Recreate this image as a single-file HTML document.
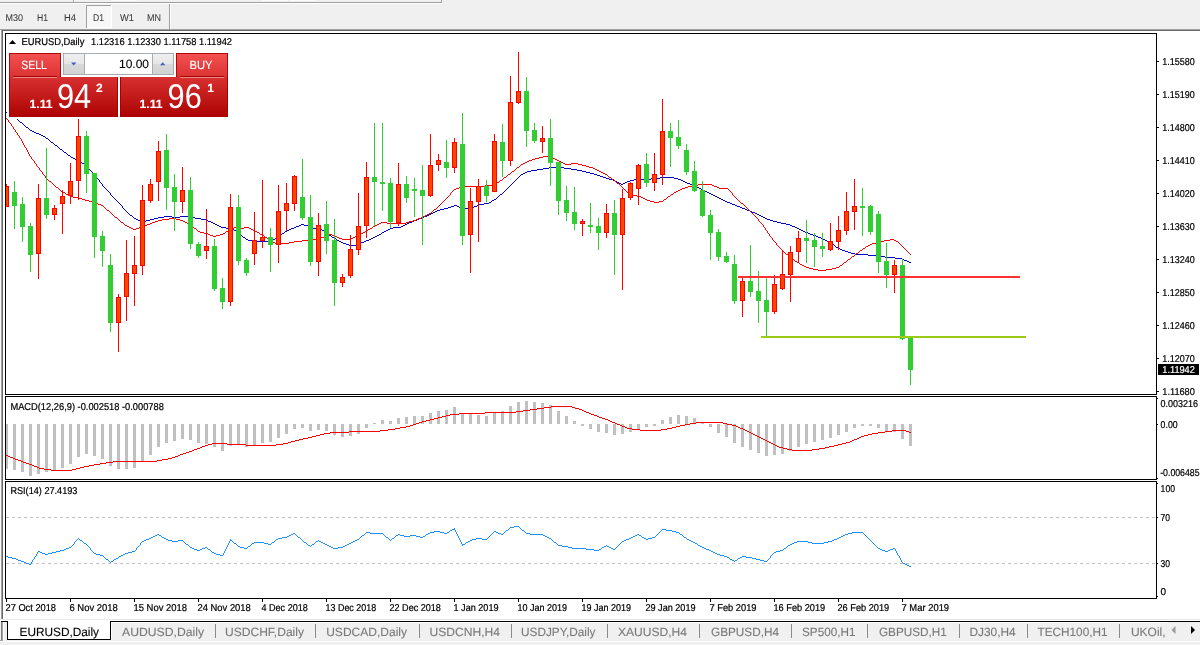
<!DOCTYPE html>
<html lang="en"><head><meta charset="utf-8"><title>EURUSD,Daily</title>
<style>html,body{margin:0;padding:0;background:#f0f0f0;overflow:hidden}svg{display:block}</style></head>
<body>
<svg width="1200" height="645" viewBox="0 0 1200 645" font-family="Liberation Sans, sans-serif" shape-rendering="crispEdges" text-rendering="geometricPrecision">
<defs>
<linearGradient id="gs" x1="0" y1="0" x2="0" y2="1"><stop offset="0" stop-color="#f45252"/><stop offset="1" stop-color="#dc3232"/></linearGradient>
<linearGradient id="gb" x1="0" y1="0" x2="0" y2="1"><stop offset="0" stop-color="#d83030"/><stop offset="1" stop-color="#ac0202"/></linearGradient>
<linearGradient id="gsp" x1="0" y1="0" x2="0" y2="1"><stop offset="0" stop-color="#f0f0f0"/><stop offset="0.48" stop-color="#e6e6e6"/><stop offset="0.52" stop-color="#d9d9d9"/><stop offset="1" stop-color="#d2d2d2"/></linearGradient>
<clipPath id="cm"><rect x="6" y="34" width="1150" height="360"/></clipPath>
</defs>
<rect x="0" y="0" width="1200" height="645" fill="#f0f0f0"/>
<rect x="0" y="2" width="442" height="1" fill="#a0a0a0"/>
<rect x="0" y="3" width="442" height="1" fill="#ffffff"/>
<rect x="73" y="0" width="1" height="2" fill="#a0a0a0"/>
<rect x="74" y="0" width="1" height="2" fill="#ffffff"/>
<rect x="441" y="0" width="1" height="3" fill="#a0a0a0"/>
<rect x="111" y="0" width="26" height="1" fill="#fafafa"/>
<rect x="262" y="0" width="26" height="1" fill="#fafafa"/>
<rect x="290" y="0" width="27" height="1" fill="#fafafa"/>
<rect x="86" y="5" width="26" height="23" fill="#f7f7f7"/>
<rect x="86" y="5" width="26" height="1" fill="#a0a0a0"/>
<rect x="86" y="5" width="1" height="23" fill="#a0a0a0"/>
<rect x="111" y="5" width="1" height="23" fill="#ffffff"/>
<rect x="87" y="27" width="25" height="1" fill="#ffffff"/>
<text x="5.5" y="21" font-size="9.8" fill="#383838" textLength="17.5" lengthAdjust="spacingAndGlyphs" stroke="#383838" stroke-width="0.05">M30</text>
<text x="37" y="21" font-size="9.8" fill="#383838" textLength="11" lengthAdjust="spacingAndGlyphs" stroke="#383838" stroke-width="0.05">H1</text>
<text x="64" y="21" font-size="9.8" fill="#383838" textLength="12" lengthAdjust="spacingAndGlyphs" stroke="#383838" stroke-width="0.05">H4</text>
<text x="93" y="21" font-size="9.8" fill="#383838" textLength="11" lengthAdjust="spacingAndGlyphs" stroke="#383838" stroke-width="0.05">D1</text>
<text x="120" y="21" font-size="9.8" fill="#383838" textLength="14" lengthAdjust="spacingAndGlyphs" stroke="#383838" stroke-width="0.05">W1</text>
<text x="147" y="21" font-size="9.8" fill="#383838" textLength="14" lengthAdjust="spacingAndGlyphs" stroke="#383838" stroke-width="0.05">MN</text>
<rect x="169" y="4" width="1" height="25" fill="#a0a0a0"/>
<rect x="170" y="4" width="1" height="25" fill="#ffffff"/>
<rect x="0" y="29" width="1200" height="1" fill="#a0a0a0"/>
<rect x="1" y="30" width="1199" height="1" fill="#696969"/>
<rect x="0" y="30" width="1" height="612" fill="#fafafa"/>
<rect x="3" y="31" width="1197" height="589" fill="#ffffff"/>
<rect x="1" y="30" width="1" height="590" fill="#a0a0a0"/>
<rect x="2" y="30" width="1" height="590" fill="#696969"/>
<g clip-path="url(#cm)">
<path fill="#0000cd" d="M6 112h1v1h-1zM7 113h2v1h-2zM9 114h1v1h-1zM10 115h2v1h-2zM12 116h2v1h-2zM14 117h1v1h-1zM15 118h2v1h-2zM17 119h1v1h-1zM18 120h1v1h-1zM19 121h1v1h-1zM20 122h2v1h-2zM22 123h1v1h-1zM23 124h1v1h-1zM24 125h1v1h-1zM25 126h1v1h-1zM26 127h2v1h-2zM28 128h1v1h-1zM29 129h1v1h-1zM30 130h2v1h-2zM32 131h2v1h-2zM34 132h2v1h-2zM36 133h3v1h-3zM39 134h2v1h-2zM41 135h2v1h-2zM43 136h2v1h-2zM45 137h1v1h-1zM46 138h2v1h-2zM48 139h1v1h-1zM49 140h1v1h-1zM50 141h1v1h-1zM51 142h2v1h-2zM53 143h1v1h-1zM54 144h1v1h-1zM55 145h2v1h-2zM57 146h1v1h-1zM58 147h1v1h-1zM59 148h1v1h-1zM60 149h2v1h-2zM62 150h1v1h-1zM63 151h1v1h-1zM64 152h2v1h-2zM66 153h1v1h-1zM67 154h1v1h-1zM68 155h2v1h-2zM70 156h1v1h-1zM71 157h2v1h-2zM73 158h2v1h-2zM75 159h2v1h-2zM77 160h2v1h-2zM79 161h1v1h-1zM80 162h2v1h-2zM82 163h2v1h-2zM84 164h1v1h-1zM85 165h1v1h-1zM86 166h1v1h-1zM87 167h1v1h-1zM88 168h1v1h-1zM89 169h1v1h-1zM90 170h1v1h-1zM91 171h1v1h-1zM92 172h1v1h-1zM93 173h1v1h-1zM94 174h1v1h-1zM95 175h1v1h-1zM96 176h1v2h-1zM97 178h1v1h-1zM98 179h1v1h-1zM99 180h1v2h-1zM100 182h1v1h-1zM101 183h1v1h-1zM102 184h1v2h-1zM103 186h1v1h-1zM104 187h1v1h-1zM105 188h1v1h-1zM106 189h1v1h-1zM107 190h1v1h-1zM108 191h1v1h-1zM109 192h1v1h-1zM110 193h1v2h-1zM111 195h1v1h-1zM112 196h1v1h-1zM113 197h1v1h-1zM114 198h1v1h-1zM115 199h1v1h-1zM116 200h1v1h-1zM117 201h1v1h-1zM118 202h1v1h-1zM119 203h1v1h-1zM120 204h1v1h-1zM121 205h1v1h-1zM122 206h1v2h-1zM123 208h1v1h-1zM124 209h1v1h-1zM125 210h1v1h-1zM126 211h1v1h-1zM127 212h1v1h-1zM128 213h1v1h-1zM129 214h1v1h-1zM130 215h2v1h-2zM132 216h1v1h-1zM133 217h1v1h-1zM134 218h2v1h-2zM136 219h2v1h-2zM138 220h4v1h-4zM142 221h4v1h-4zM146 220h4v1h-4zM150 219h4v1h-4zM154 218h4v1h-4zM158 217h6v1h-6zM164 216h8v1h-8zM172 217h8v1h-8zM180 216h8v1h-8zM188 217h7v1h-7zM195 218h6v1h-6zM201 219h5v1h-5zM206 220h2v1h-2zM208 221h3v1h-3zM211 222h2v1h-2zM213 223h2v1h-2zM215 224h2v1h-2zM217 225h2v1h-2zM219 226h2v1h-2zM221 227h5v1h-5zM226 228h6v1h-6zM232 229h2v1h-2zM234 230h3v1h-3zM237 231h2v1h-2zM239 232h1v2h-1zM240 234h1v1h-1zM241 235h1v1h-1zM242 236h1v1h-1zM243 237h2v1h-2zM245 238h1v1h-1zM246 239h2v1h-2zM248 240h4v1h-4zM252 241h19v1h-19zM271 240h2v1h-2zM273 239h2v1h-2zM275 238h2v1h-2zM277 237h1v1h-1zM278 236h2v1h-2zM280 235h1v1h-1zM281 234h1v1h-1zM282 233h2v1h-2zM284 232h1v1h-1zM285 231h2v1h-2zM287 230h2v1h-2zM289 229h2v1h-2zM291 228h3v1h-3zM294 227h2v1h-2zM296 226h3v1h-3zM299 225h2v1h-2zM301 224h3v1h-3zM304 225h4v1h-4zM308 226h2v1h-2zM310 227h3v1h-3zM313 228h8v1h-8zM321 229h1v1h-1zM322 230h2v1h-2zM324 231h1v1h-1zM325 232h1v1h-1zM326 233h2v1h-2zM328 234h1v1h-1zM329 235h2v1h-2zM331 236h1v1h-1zM332 237h2v1h-2zM334 238h2v1h-2zM336 239h1v1h-1zM337 240h2v1h-2zM339 241h2v1h-2zM341 242h2v1h-2zM343 243h3v1h-3zM346 244h3v1h-3zM349 245h8v1h-8zM357 244h2v1h-2zM359 243h2v1h-2zM361 242h3v1h-3zM364 241h2v1h-2zM366 240h3v1h-3zM369 239h2v1h-2zM371 238h2v1h-2zM373 237h2v1h-2zM375 236h2v1h-2zM377 235h2v1h-2zM379 234h2v1h-2zM381 233h1v1h-1zM382 232h2v1h-2zM384 231h2v1h-2zM386 230h2v1h-2zM388 229h2v1h-2zM390 228h3v1h-3zM393 227h8v1h-8zM401 226h2v1h-2zM403 225h2v1h-2zM405 224h2v1h-2zM407 223h2v1h-2zM409 222h3v1h-3zM412 221h2v1h-2zM414 220h3v1h-3zM417 219h2v1h-2zM419 218h3v1h-3zM422 217h2v1h-2zM424 216h3v1h-3zM427 215h2v1h-2zM429 214h2v1h-2zM431 213h2v1h-2zM433 212h2v1h-2zM435 211h2v1h-2zM437 210h3v1h-3zM440 209h4v1h-4zM444 208h4v1h-4zM448 207h3v1h-3zM451 206h3v1h-3zM454 205h3v1h-3zM457 206h2v1h-2zM459 207h2v1h-2zM461 208h11v1h-11zM472 207h2v1h-2zM474 206h3v1h-3zM477 205h2v1h-2zM479 204h5v1h-5zM484 203h5v1h-5zM489 202h2v1h-2zM491 201h1v1h-1zM492 200h2v1h-2zM494 199h2v1h-2zM496 198h1v1h-1zM497 197h1v1h-1zM498 196h1v1h-1zM499 195h1v1h-1zM500 194h2v1h-2zM502 193h1v1h-1zM503 192h1v1h-1zM504 191h1v1h-1zM505 190h1v1h-1zM506 189h1v1h-1zM507 188h1v1h-1zM508 187h1v1h-1zM509 186h1v1h-1zM510 185h1v1h-1zM511 184h1v1h-1zM512 183h1v1h-1zM513 182h1v1h-1zM514 181h1v1h-1zM515 180h1v1h-1zM516 179h1v1h-1zM517 178h1v1h-1zM518 177h1v1h-1zM519 176h1v1h-1zM520 175h1v1h-1zM521 174h2v1h-2zM523 173h2v1h-2zM525 172h2v1h-2zM527 171h4v1h-4zM531 170h6v1h-6zM537 169h6v1h-6zM543 168h6v1h-6zM549 167h15v1h-15zM564 168h7v1h-7zM571 169h6v1h-6zM577 170h5v1h-5zM582 171h4v1h-4zM586 172h4v1h-4zM590 173h4v1h-4zM594 174h3v1h-3zM597 175h3v1h-3zM600 176h3v1h-3zM603 177h3v1h-3zM606 178h3v1h-3zM609 179h4v1h-4zM613 180h2v1h-2zM615 181h2v1h-2zM617 182h2v1h-2zM619 183h2v1h-2zM621 184h2v1h-2zM623 183h2v1h-2zM625 182h2v1h-2zM627 181h3v1h-3zM630 180h4v1h-4zM634 179h17v1h-17zM651 178h9v1h-9zM660 177h14v1h-14zM674 178h4v1h-4zM678 179h3v1h-3zM681 180h2v1h-2zM683 181h2v1h-2zM685 182h2v1h-2zM687 183h3v1h-3zM690 184h2v1h-2zM692 185h3v1h-3zM695 186h2v1h-2zM697 187h2v1h-2zM699 188h2v1h-2zM701 189h2v1h-2zM703 190h2v1h-2zM705 191h2v1h-2zM707 192h2v1h-2zM709 193h2v1h-2zM711 194h2v1h-2zM713 195h2v1h-2zM715 196h2v1h-2zM717 197h2v1h-2zM719 198h2v1h-2zM721 199h2v1h-2zM723 200h2v1h-2zM725 201h2v1h-2zM727 202h3v1h-3zM730 203h2v1h-2zM732 204h3v1h-3zM735 205h2v1h-2zM737 206h3v1h-3zM740 207h2v1h-2zM742 208h3v1h-3zM745 209h2v1h-2zM747 210h3v1h-3zM750 211h2v1h-2zM752 212h3v1h-3zM755 213h2v1h-2zM757 214h2v1h-2zM759 215h2v1h-2zM761 216h2v1h-2zM763 217h2v1h-2zM765 218h2v1h-2zM767 219h3v1h-3zM770 220h3v1h-3zM773 221h4v1h-4zM777 222h4v1h-4zM781 223h5v1h-5zM786 224h4v1h-4zM790 225h2v1h-2zM792 226h3v1h-3zM795 227h2v1h-2zM797 228h2v1h-2zM799 229h2v1h-2zM801 230h2v1h-2zM803 231h2v1h-2zM805 232h3v1h-3zM808 233h2v1h-2zM810 234h3v1h-3zM813 235h3v1h-3zM816 236h2v1h-2zM818 237h3v1h-3zM821 238h2v1h-2zM823 239h2v1h-2zM825 240h2v1h-2zM827 241h2v1h-2zM829 242h2v1h-2zM831 243h1v1h-1zM832 244h2v1h-2zM834 245h1v1h-1zM835 246h1v1h-1zM836 247h2v1h-2zM838 248h2v1h-2zM840 249h2v1h-2zM842 250h3v1h-3zM845 251h3v1h-3zM848 252h3v1h-3zM851 253h4v1h-4zM855 254h13v1h-13zM868 255h8v1h-8zM876 256h9v1h-9zM885 257h10v1h-10zM895 258h7v1h-7zM902 259h2v1h-2zM904 260h3v1h-3zM907 261h2v1h-2zM909 262h2v1h-2z"/>
<path fill="#ff0000" d="M6 118h1v1h-1zM7 119h1v1h-1zM8 120h1v2h-1zM9 122h1v1h-1zM10 123h1v1h-1zM11 124h1v2h-1zM12 126h1v1h-1zM13 127h1v2h-1zM14 129h1v1h-1zM15 130h1v2h-1zM16 132h1v1h-1zM17 133h1v2h-1zM18 135h1v1h-1zM19 136h1v2h-1zM20 138h1v1h-1zM21 139h1v2h-1zM22 141h1v2h-1zM23 143h1v2h-1zM24 145h1v2h-1zM25 147h1v1h-1zM26 148h1v2h-1zM27 150h1v2h-1zM28 152h1v2h-1zM29 154h1v2h-1zM30 156h1v1h-1zM31 157h1v2h-1zM32 159h1v1h-1zM33 160h1v1h-1zM34 161h1v2h-1zM35 163h1v1h-1zM36 164h1v2h-1zM37 166h1v1h-1zM38 167h1v1h-1zM39 168h1v2h-1zM40 170h1v1h-1zM41 171h1v1h-1zM42 172h1v2h-1zM43 174h1v1h-1zM44 175h1v1h-1zM45 176h1v2h-1zM46 178h1v1h-1zM47 179h1v1h-1zM48 180h1v1h-1zM49 181h2v1h-2zM51 182h1v1h-1zM52 183h1v1h-1zM53 184h1v1h-1zM54 185h1v1h-1zM55 186h1v1h-1zM56 187h2v1h-2zM58 188h1v1h-1zM59 189h1v1h-1zM60 190h1v1h-1zM61 191h2v1h-2zM63 192h2v1h-2zM65 193h1v1h-1zM66 194h2v1h-2zM68 195h2v1h-2zM70 196h3v1h-3zM73 197h5v1h-5zM78 198h4v1h-4zM82 199h3v1h-3zM85 200h4v1h-4zM89 201h3v1h-3zM92 202h3v1h-3zM95 203h3v1h-3zM98 204h3v1h-3zM101 205h2v1h-2zM103 206h1v1h-1zM104 207h1v1h-1zM105 208h1v1h-1zM106 209h1v1h-1zM107 210h2v1h-2zM109 211h1v1h-1zM110 212h1v1h-1zM111 213h1v1h-1zM112 214h1v1h-1zM113 215h1v1h-1zM114 216h1v1h-1zM115 217h2v1h-2zM117 218h1v1h-1zM118 219h1v1h-1zM119 220h1v1h-1zM120 221h1v1h-1zM121 222h2v1h-2zM123 223h1v1h-1zM124 224h1v1h-1zM125 225h2v1h-2zM127 226h2v1h-2zM129 227h2v1h-2zM131 228h2v1h-2zM133 229h3v1h-3zM136 228h3v1h-3zM139 227h3v1h-3zM142 226h2v1h-2zM144 225h3v1h-3zM147 224h3v1h-3zM150 223h2v1h-2zM152 222h3v1h-3zM155 221h3v1h-3zM158 220h4v1h-4zM162 219h7v1h-7zM169 218h7v1h-7zM176 219h4v1h-4zM180 220h3v1h-3zM183 221h2v1h-2zM185 222h2v1h-2zM187 223h2v1h-2zM189 224h2v1h-2zM191 225h1v1h-1zM192 226h1v1h-1zM193 227h1v1h-1zM194 228h2v1h-2zM196 229h1v1h-1zM197 230h1v1h-1zM198 231h2v1h-2zM200 232h4v1h-4zM204 233h4v1h-4zM208 234h2v1h-2zM210 235h3v1h-3zM213 236h3v1h-3zM216 235h4v1h-4zM220 234h3v1h-3zM223 233h2v1h-2zM225 232h1v1h-1zM226 231h2v1h-2zM228 230h2v1h-2zM230 229h2v1h-2zM232 228h2v1h-2zM234 227h3v1h-3zM237 226h2v1h-2zM239 227h1v1h-1zM240 228h4v1h-4zM244 227h5v1h-5zM249 228h2v1h-2zM251 229h2v1h-2zM253 230h2v1h-2zM255 231h2v1h-2zM257 232h2v1h-2zM259 233h1v1h-1zM260 234h2v1h-2zM262 235h2v1h-2zM264 236h1v1h-1zM265 237h2v1h-2zM267 238h1v1h-1zM268 239h2v1h-2zM270 240h1v1h-1zM271 241h2v1h-2zM273 242h2v1h-2zM275 243h14v1h-14zM289 242h5v1h-5zM294 241h8v1h-8zM302 240h10v1h-10zM312 239h6v1h-6zM318 238h3v1h-3zM321 237h3v1h-3zM324 236h2v1h-2zM326 235h3v1h-3zM329 234h3v1h-3zM332 235h3v1h-3zM335 236h2v1h-2zM337 237h2v1h-2zM339 238h3v1h-3zM342 239h9v1h-9zM351 238h2v1h-2zM353 237h2v1h-2zM355 236h2v1h-2zM357 235h2v1h-2zM359 234h2v1h-2zM361 233h2v1h-2zM363 232h2v1h-2zM365 231h2v1h-2zM367 230h1v1h-1zM368 229h2v1h-2zM370 228h2v1h-2zM372 227h1v1h-1zM373 226h2v1h-2zM375 225h2v1h-2zM377 224h2v1h-2zM379 223h2v1h-2zM381 222h6v1h-6zM387 223h19v1h-19zM406 222h3v1h-3zM409 221h4v1h-4zM413 220h3v1h-3zM416 219h2v1h-2zM418 218h3v1h-3zM421 217h2v1h-2zM423 216h2v1h-2zM425 215h2v1h-2zM427 214h2v1h-2zM429 213h2v1h-2zM431 212h1v1h-1zM432 211h1v1h-1zM433 210h1v1h-1zM434 209h2v1h-2zM436 208h1v1h-1zM437 207h1v1h-1zM438 206h1v1h-1zM439 205h1v1h-1zM440 204h1v1h-1zM441 203h1v1h-1zM442 202h1v1h-1zM443 201h1v1h-1zM444 200h1v1h-1zM445 199h1v1h-1zM446 198h1v1h-1zM447 197h1v1h-1zM448 196h1v1h-1zM449 195h1v1h-1zM450 193h1v2h-1zM451 192h1v1h-1zM452 191h1v1h-1zM453 190h1v1h-1zM454 189h2v1h-2zM456 188h3v1h-3zM459 187h4v1h-4zM463 186h22v1h-22zM485 185h7v1h-7zM492 184h2v1h-2zM494 183h3v1h-3zM497 182h2v1h-2zM499 181h1v1h-1zM500 180h2v1h-2zM502 179h1v1h-1zM503 178h1v1h-1zM504 177h2v1h-2zM506 176h1v1h-1zM507 175h1v1h-1zM508 174h2v1h-2zM510 173h1v1h-1zM511 172h1v1h-1zM512 171h2v1h-2zM514 170h1v1h-1zM515 169h1v1h-1zM516 168h1v1h-1zM517 167h2v1h-2zM519 166h1v1h-1zM520 165h1v1h-1zM521 164h2v1h-2zM523 163h2v1h-2zM525 162h2v1h-2zM527 161h2v1h-2zM529 160h3v1h-3zM532 159h3v1h-3zM535 158h4v1h-4zM539 157h4v1h-4zM543 156h5v1h-5zM548 157h3v1h-3zM551 158h4v1h-4zM555 159h2v1h-2zM557 160h2v1h-2zM559 161h2v1h-2zM561 162h2v1h-2zM563 163h2v1h-2zM565 164h6v1h-6zM571 163h7v1h-7zM578 164h4v1h-4zM582 165h4v1h-4zM586 166h3v1h-3zM589 167h4v1h-4zM593 168h2v1h-2zM595 169h2v1h-2zM597 170h2v1h-2zM599 171h2v1h-2zM601 172h2v1h-2zM603 173h2v1h-2zM605 174h2v1h-2zM607 175h1v1h-1zM608 176h1v1h-1zM609 177h2v1h-2zM611 178h1v1h-1zM612 179h2v1h-2zM614 180h1v1h-1zM615 181h1v1h-1zM616 182h1v1h-1zM617 183h2v1h-2zM619 184h1v1h-1zM620 185h1v1h-1zM621 186h1v1h-1zM622 187h1v1h-1zM623 188h1v1h-1zM624 189h1v1h-1zM625 190h1v1h-1zM626 191h1v1h-1zM627 192h1v1h-1zM628 193h2v1h-2zM630 194h3v1h-3zM633 195h4v1h-4zM637 196h4v1h-4zM641 197h2v1h-2zM643 198h2v1h-2zM645 199h2v1h-2zM647 200h3v1h-3zM650 201h4v1h-4zM654 202h5v1h-5zM659 201h4v1h-4zM663 200h1v1h-1zM664 199h2v1h-2zM666 198h1v1h-1zM667 197h1v1h-1zM668 196h2v1h-2zM670 195h1v1h-1zM671 194h2v1h-2zM673 193h1v1h-1zM674 192h2v1h-2zM676 191h2v1h-2zM678 190h2v1h-2zM680 189h2v1h-2zM682 188h3v1h-3zM685 187h3v1h-3zM688 186h4v1h-4zM692 185h6v1h-6zM698 184h14v1h-14zM712 185h2v1h-2zM714 186h3v1h-3zM717 187h2v1h-2zM719 188h9v1h-9zM728 189h1v1h-1zM729 190h1v1h-1zM730 191h1v1h-1zM731 192h1v1h-1zM732 193h1v2h-1zM733 195h1v1h-1zM734 196h1v1h-1zM735 197h1v1h-1zM736 198h1v1h-1zM737 199h1v1h-1zM738 200h1v1h-1zM739 201h1v1h-1zM740 202h1v1h-1zM741 203h2v1h-2zM743 204h1v1h-1zM744 205h1v1h-1zM745 206h1v1h-1zM746 207h1v1h-1zM747 208h1v1h-1zM748 209h1v1h-1zM749 210h1v1h-1zM750 211h1v1h-1zM751 212h1v1h-1zM752 213h1v1h-1zM753 214h1v1h-1zM754 215h1v1h-1zM755 216h1v1h-1zM756 217h1v1h-1zM757 218h1v1h-1zM758 219h1v2h-1zM759 221h1v1h-1zM760 222h1v1h-1zM761 223h1v1h-1zM762 224h1v1h-1zM763 225h1v2h-1zM764 227h1v1h-1zM765 228h1v2h-1zM766 230h1v1h-1zM767 231h1v2h-1zM768 233h1v1h-1zM769 234h1v2h-1zM770 236h1v1h-1zM771 237h1v1h-1zM772 238h1v2h-1zM773 240h1v1h-1zM774 241h1v1h-1zM775 242h1v1h-1zM776 243h1v2h-1zM777 245h1v1h-1zM778 246h1v1h-1zM779 247h1v1h-1zM780 248h1v1h-1zM781 249h1v1h-1zM782 250h1v1h-1zM783 251h1v1h-1zM784 252h1v1h-1zM785 253h1v1h-1zM786 254h2v1h-2zM788 255h1v1h-1zM789 256h1v1h-1zM790 257h1v1h-1zM791 258h2v1h-2zM793 259h1v1h-1zM794 260h1v1h-1zM795 261h2v1h-2zM797 262h2v1h-2zM799 263h1v1h-1zM800 264h2v1h-2zM802 265h2v1h-2zM804 266h2v1h-2zM806 267h3v1h-3zM809 268h4v1h-4zM813 269h5v1h-5zM818 270h8v1h-8zM826 269h6v1h-6zM832 268h4v1h-4zM836 267h3v1h-3zM839 266h1v1h-1zM840 265h2v1h-2zM842 264h1v1h-1zM843 263h1v1h-1zM844 262h2v1h-2zM846 261h1v1h-1zM847 260h1v1h-1zM848 259h2v1h-2zM850 258h1v1h-1zM851 257h1v1h-1zM852 256h2v1h-2zM854 255h1v1h-1zM855 254h1v1h-1zM856 253h2v1h-2zM858 252h1v1h-1zM859 251h1v1h-1zM860 250h2v1h-2zM862 249h1v1h-1zM863 248h2v1h-2zM865 247h1v1h-1zM866 246h2v1h-2zM868 245h2v1h-2zM870 244h2v1h-2zM872 243h4v1h-4zM876 242h4v1h-4zM880 241h4v1h-4zM884 240h6v1h-6zM890 239h4v1h-4zM894 240h2v1h-2zM896 241h2v1h-2zM898 242h1v1h-1zM899 243h1v1h-1zM900 244h1v1h-1zM901 245h1v1h-1zM902 246h1v1h-1zM903 247h1v1h-1zM904 248h1v1h-1zM905 249h1v1h-1zM906 250h1v1h-1zM907 251h1v1h-1zM908 252h1v1h-1zM909 253h1v1h-1zM910 254h1v1h-1z"/>
<rect x="6" y="184" width="1" height="23" fill="#ff0000"/>
<rect x="4" y="186" width="5" height="21" fill="#ff0000"/>
<rect x="5" y="187" width="3" height="19" fill="#ff4500"/>
<rect x="14" y="181" width="1" height="48" fill="#32cd32"/>
<rect x="12" y="192" width="5" height="14" fill="#32cd32"/>
<rect x="22" y="197" width="1" height="45" fill="#32cd32"/>
<rect x="20" y="204" width="5" height="23" fill="#32cd32"/>
<rect x="30" y="223" width="1" height="49" fill="#32cd32"/>
<rect x="28" y="226" width="5" height="29" fill="#32cd32"/>
<rect x="38" y="184" width="1" height="95" fill="#ff0000"/>
<rect x="36" y="198" width="5" height="56" fill="#ff0000"/>
<rect x="37" y="199" width="3" height="54" fill="#ff4500"/>
<rect x="46" y="148" width="1" height="71" fill="#32cd32"/>
<rect x="44" y="198" width="5" height="17" fill="#32cd32"/>
<rect x="54" y="205" width="1" height="15" fill="#ff0000"/>
<rect x="52" y="208" width="5" height="7" fill="#ff0000"/>
<rect x="53" y="209" width="3" height="5" fill="#ff4500"/>
<rect x="62" y="190" width="1" height="44" fill="#ff0000"/>
<rect x="60" y="196" width="5" height="8" fill="#ff0000"/>
<rect x="61" y="197" width="3" height="6" fill="#ff4500"/>
<rect x="70" y="163" width="1" height="41" fill="#ff0000"/>
<rect x="68" y="181" width="5" height="15" fill="#ff0000"/>
<rect x="69" y="182" width="3" height="13" fill="#ff4500"/>
<rect x="78" y="119" width="1" height="81" fill="#ff0000"/>
<rect x="76" y="136" width="5" height="45" fill="#ff0000"/>
<rect x="77" y="137" width="3" height="43" fill="#ff4500"/>
<rect x="86" y="131" width="1" height="62" fill="#32cd32"/>
<rect x="84" y="136" width="5" height="38" fill="#32cd32"/>
<rect x="94" y="173" width="1" height="85" fill="#32cd32"/>
<rect x="92" y="173" width="5" height="64" fill="#32cd32"/>
<rect x="102" y="231" width="1" height="36" fill="#32cd32"/>
<rect x="100" y="236" width="5" height="15" fill="#32cd32"/>
<rect x="110" y="254" width="1" height="78" fill="#32cd32"/>
<rect x="108" y="265" width="5" height="58" fill="#32cd32"/>
<rect x="118" y="294" width="1" height="58" fill="#ff0000"/>
<rect x="116" y="297" width="5" height="26" fill="#ff0000"/>
<rect x="117" y="298" width="3" height="24" fill="#ff4500"/>
<rect x="126" y="240" width="1" height="81" fill="#ff0000"/>
<rect x="124" y="273" width="5" height="24" fill="#ff0000"/>
<rect x="125" y="274" width="3" height="22" fill="#ff4500"/>
<rect x="134" y="236" width="1" height="70" fill="#ff0000"/>
<rect x="132" y="265" width="5" height="9" fill="#ff0000"/>
<rect x="133" y="266" width="3" height="7" fill="#ff4500"/>
<rect x="142" y="185" width="1" height="90" fill="#ff0000"/>
<rect x="140" y="200" width="5" height="66" fill="#ff0000"/>
<rect x="141" y="201" width="3" height="64" fill="#ff4500"/>
<rect x="150" y="179" width="1" height="24" fill="#ff0000"/>
<rect x="148" y="184" width="5" height="17" fill="#ff0000"/>
<rect x="149" y="185" width="3" height="15" fill="#ff4500"/>
<rect x="158" y="141" width="1" height="60" fill="#ff0000"/>
<rect x="156" y="151" width="5" height="31" fill="#ff0000"/>
<rect x="157" y="152" width="3" height="29" fill="#ff4500"/>
<rect x="166" y="134" width="1" height="76" fill="#32cd32"/>
<rect x="164" y="150" width="5" height="38" fill="#32cd32"/>
<rect x="174" y="174" width="1" height="57" fill="#32cd32"/>
<rect x="172" y="187" width="5" height="15" fill="#32cd32"/>
<rect x="182" y="167" width="1" height="46" fill="#ff0000"/>
<rect x="180" y="190" width="5" height="12" fill="#ff0000"/>
<rect x="181" y="191" width="3" height="10" fill="#ff4500"/>
<rect x="190" y="177" width="1" height="72" fill="#32cd32"/>
<rect x="188" y="190" width="5" height="54" fill="#32cd32"/>
<rect x="198" y="242" width="1" height="16" fill="#32cd32"/>
<rect x="196" y="244" width="5" height="12" fill="#32cd32"/>
<rect x="206" y="209" width="1" height="50" fill="#ff0000"/>
<rect x="204" y="246" width="5" height="5" fill="#ff0000"/>
<rect x="205" y="247" width="3" height="3" fill="#ff4500"/>
<rect x="214" y="239" width="1" height="52" fill="#32cd32"/>
<rect x="212" y="246" width="5" height="43" fill="#32cd32"/>
<rect x="222" y="278" width="1" height="31" fill="#32cd32"/>
<rect x="220" y="288" width="5" height="14" fill="#32cd32"/>
<rect x="230" y="194" width="1" height="112" fill="#ff0000"/>
<rect x="228" y="207" width="5" height="95" fill="#ff0000"/>
<rect x="229" y="208" width="3" height="93" fill="#ff4500"/>
<rect x="238" y="195" width="1" height="70" fill="#32cd32"/>
<rect x="236" y="207" width="5" height="54" fill="#32cd32"/>
<rect x="246" y="258" width="1" height="18" fill="#32cd32"/>
<rect x="244" y="260" width="5" height="13" fill="#32cd32"/>
<rect x="254" y="212" width="1" height="53" fill="#ff0000"/>
<rect x="252" y="240" width="5" height="14" fill="#ff0000"/>
<rect x="253" y="241" width="3" height="12" fill="#ff4500"/>
<rect x="262" y="180" width="1" height="68" fill="#ff0000"/>
<rect x="260" y="237" width="5" height="4" fill="#ff0000"/>
<rect x="261" y="238" width="3" height="2" fill="#ff4500"/>
<rect x="270" y="228" width="1" height="44" fill="#32cd32"/>
<rect x="268" y="237" width="5" height="8" fill="#32cd32"/>
<rect x="278" y="185" width="1" height="78" fill="#ff0000"/>
<rect x="276" y="211" width="5" height="34" fill="#ff0000"/>
<rect x="277" y="212" width="3" height="32" fill="#ff4500"/>
<rect x="286" y="183" width="1" height="48" fill="#ff0000"/>
<rect x="284" y="203" width="5" height="8" fill="#ff0000"/>
<rect x="285" y="204" width="3" height="6" fill="#ff4500"/>
<rect x="294" y="175" width="1" height="36" fill="#ff0000"/>
<rect x="292" y="176" width="5" height="28" fill="#ff0000"/>
<rect x="293" y="177" width="3" height="26" fill="#ff4500"/>
<rect x="302" y="159" width="1" height="61" fill="#32cd32"/>
<rect x="300" y="197" width="5" height="21" fill="#32cd32"/>
<rect x="310" y="195" width="1" height="71" fill="#32cd32"/>
<rect x="308" y="217" width="5" height="45" fill="#32cd32"/>
<rect x="318" y="213" width="1" height="63" fill="#ff0000"/>
<rect x="316" y="225" width="5" height="37" fill="#ff0000"/>
<rect x="317" y="226" width="3" height="35" fill="#ff4500"/>
<rect x="326" y="201" width="1" height="53" fill="#32cd32"/>
<rect x="324" y="224" width="5" height="17" fill="#32cd32"/>
<rect x="334" y="219" width="1" height="87" fill="#32cd32"/>
<rect x="332" y="240" width="5" height="43" fill="#32cd32"/>
<rect x="342" y="274" width="1" height="13" fill="#ff0000"/>
<rect x="340" y="277" width="5" height="6" fill="#ff0000"/>
<rect x="341" y="278" width="3" height="4" fill="#ff4500"/>
<rect x="350" y="235" width="1" height="43" fill="#ff0000"/>
<rect x="348" y="249" width="5" height="27" fill="#ff0000"/>
<rect x="349" y="250" width="3" height="25" fill="#ff4500"/>
<rect x="358" y="193" width="1" height="62" fill="#ff0000"/>
<rect x="356" y="226" width="5" height="24" fill="#ff0000"/>
<rect x="357" y="227" width="3" height="22" fill="#ff4500"/>
<rect x="366" y="162" width="1" height="76" fill="#ff0000"/>
<rect x="364" y="177" width="5" height="49" fill="#ff0000"/>
<rect x="365" y="178" width="3" height="47" fill="#ff4500"/>
<rect x="374" y="123" width="1" height="103" fill="#32cd32"/>
<rect x="372" y="177" width="5" height="5" fill="#32cd32"/>
<rect x="382" y="123" width="1" height="88" fill="#32cd32"/>
<rect x="380" y="182" width="5" height="2" fill="#32cd32"/>
<rect x="390" y="178" width="1" height="50" fill="#32cd32"/>
<rect x="388" y="183" width="5" height="39" fill="#32cd32"/>
<rect x="398" y="163" width="1" height="63" fill="#ff0000"/>
<rect x="396" y="184" width="5" height="39" fill="#ff0000"/>
<rect x="397" y="185" width="3" height="37" fill="#ff4500"/>
<rect x="406" y="176" width="1" height="27" fill="#32cd32"/>
<rect x="404" y="184" width="5" height="14" fill="#32cd32"/>
<rect x="414" y="178" width="1" height="39" fill="#32cd32"/>
<rect x="412" y="189" width="5" height="2" fill="#32cd32"/>
<rect x="422" y="165" width="1" height="80" fill="#32cd32"/>
<rect x="420" y="190" width="5" height="6" fill="#32cd32"/>
<rect x="430" y="134" width="1" height="63" fill="#ff0000"/>
<rect x="428" y="165" width="5" height="31" fill="#ff0000"/>
<rect x="429" y="166" width="3" height="29" fill="#ff4500"/>
<rect x="438" y="154" width="1" height="17" fill="#ff0000"/>
<rect x="436" y="160" width="5" height="5" fill="#ff0000"/>
<rect x="437" y="161" width="3" height="3" fill="#ff4500"/>
<rect x="446" y="140" width="1" height="38" fill="#32cd32"/>
<rect x="444" y="162" width="5" height="6" fill="#32cd32"/>
<rect x="454" y="138" width="1" height="35" fill="#ff0000"/>
<rect x="452" y="142" width="5" height="26" fill="#ff0000"/>
<rect x="453" y="143" width="3" height="24" fill="#ff4500"/>
<rect x="462" y="113" width="1" height="132" fill="#32cd32"/>
<rect x="460" y="144" width="5" height="92" fill="#32cd32"/>
<rect x="470" y="188" width="1" height="85" fill="#ff0000"/>
<rect x="468" y="201" width="5" height="34" fill="#ff0000"/>
<rect x="469" y="202" width="3" height="32" fill="#ff4500"/>
<rect x="478" y="179" width="1" height="63" fill="#ff0000"/>
<rect x="476" y="186" width="5" height="16" fill="#ff0000"/>
<rect x="477" y="187" width="3" height="14" fill="#ff4500"/>
<rect x="486" y="180" width="1" height="22" fill="#32cd32"/>
<rect x="484" y="186" width="5" height="10" fill="#32cd32"/>
<rect x="494" y="134" width="1" height="58" fill="#ff0000"/>
<rect x="492" y="141" width="5" height="51" fill="#ff0000"/>
<rect x="493" y="142" width="3" height="49" fill="#ff4500"/>
<rect x="502" y="124" width="1" height="53" fill="#32cd32"/>
<rect x="500" y="142" width="5" height="19" fill="#32cd32"/>
<rect x="510" y="76" width="1" height="90" fill="#ff0000"/>
<rect x="508" y="102" width="5" height="59" fill="#ff0000"/>
<rect x="509" y="103" width="3" height="57" fill="#ff4500"/>
<rect x="518" y="52" width="1" height="52" fill="#ff0000"/>
<rect x="516" y="91" width="5" height="12" fill="#ff0000"/>
<rect x="517" y="92" width="3" height="10" fill="#ff4500"/>
<rect x="526" y="77" width="1" height="70" fill="#32cd32"/>
<rect x="524" y="91" width="5" height="40" fill="#32cd32"/>
<rect x="534" y="123" width="1" height="20" fill="#32cd32"/>
<rect x="532" y="130" width="5" height="11" fill="#32cd32"/>
<rect x="542" y="126" width="1" height="27" fill="#ff0000"/>
<rect x="540" y="138" width="5" height="4" fill="#ff0000"/>
<rect x="541" y="139" width="3" height="2" fill="#ff4500"/>
<rect x="550" y="119" width="1" height="67" fill="#32cd32"/>
<rect x="548" y="138" width="5" height="25" fill="#32cd32"/>
<rect x="558" y="162" width="1" height="53" fill="#32cd32"/>
<rect x="556" y="162" width="5" height="39" fill="#32cd32"/>
<rect x="566" y="186" width="1" height="35" fill="#32cd32"/>
<rect x="564" y="200" width="5" height="13" fill="#32cd32"/>
<rect x="574" y="187" width="1" height="43" fill="#32cd32"/>
<rect x="572" y="212" width="5" height="12" fill="#32cd32"/>
<rect x="582" y="219" width="1" height="17" fill="#ff0000"/>
<rect x="580" y="221" width="5" height="3" fill="#ff0000"/>
<rect x="581" y="222" width="3" height="1" fill="#ff4500"/>
<rect x="590" y="203" width="1" height="30" fill="#32cd32"/>
<rect x="588" y="225" width="5" height="2" fill="#32cd32"/>
<rect x="598" y="218" width="1" height="32" fill="#32cd32"/>
<rect x="596" y="226" width="5" height="7" fill="#32cd32"/>
<rect x="606" y="204" width="1" height="34" fill="#ff0000"/>
<rect x="604" y="213" width="5" height="20" fill="#ff0000"/>
<rect x="605" y="214" width="3" height="18" fill="#ff4500"/>
<rect x="614" y="200" width="1" height="75" fill="#32cd32"/>
<rect x="612" y="213" width="5" height="22" fill="#32cd32"/>
<rect x="622" y="189" width="1" height="101" fill="#ff0000"/>
<rect x="620" y="198" width="5" height="37" fill="#ff0000"/>
<rect x="621" y="199" width="3" height="35" fill="#ff4500"/>
<rect x="630" y="182" width="1" height="18" fill="#ff0000"/>
<rect x="628" y="183" width="5" height="15" fill="#ff0000"/>
<rect x="629" y="184" width="3" height="13" fill="#ff4500"/>
<rect x="638" y="164" width="1" height="41" fill="#ff0000"/>
<rect x="636" y="165" width="5" height="24" fill="#ff0000"/>
<rect x="637" y="166" width="3" height="22" fill="#ff4500"/>
<rect x="646" y="153" width="1" height="34" fill="#32cd32"/>
<rect x="644" y="164" width="5" height="19" fill="#32cd32"/>
<rect x="654" y="153" width="1" height="38" fill="#ff0000"/>
<rect x="652" y="174" width="5" height="9" fill="#ff0000"/>
<rect x="653" y="175" width="3" height="7" fill="#ff4500"/>
<rect x="662" y="99" width="1" height="86" fill="#ff0000"/>
<rect x="660" y="131" width="5" height="44" fill="#ff0000"/>
<rect x="661" y="132" width="3" height="42" fill="#ff4500"/>
<rect x="670" y="123" width="1" height="44" fill="#32cd32"/>
<rect x="668" y="131" width="5" height="7" fill="#32cd32"/>
<rect x="678" y="120" width="1" height="29" fill="#32cd32"/>
<rect x="676" y="137" width="5" height="9" fill="#32cd32"/>
<rect x="686" y="144" width="1" height="31" fill="#32cd32"/>
<rect x="684" y="150" width="5" height="22" fill="#32cd32"/>
<rect x="694" y="161" width="1" height="31" fill="#32cd32"/>
<rect x="692" y="171" width="5" height="20" fill="#32cd32"/>
<rect x="702" y="181" width="1" height="36" fill="#32cd32"/>
<rect x="700" y="190" width="5" height="26" fill="#32cd32"/>
<rect x="710" y="210" width="1" height="50" fill="#32cd32"/>
<rect x="708" y="215" width="5" height="18" fill="#32cd32"/>
<rect x="718" y="229" width="1" height="32" fill="#32cd32"/>
<rect x="716" y="232" width="5" height="25" fill="#32cd32"/>
<rect x="726" y="252" width="1" height="11" fill="#32cd32"/>
<rect x="724" y="256" width="5" height="6" fill="#32cd32"/>
<rect x="734" y="255" width="1" height="49" fill="#32cd32"/>
<rect x="732" y="264" width="5" height="37" fill="#32cd32"/>
<rect x="742" y="278" width="1" height="39" fill="#ff0000"/>
<rect x="740" y="281" width="5" height="20" fill="#ff0000"/>
<rect x="741" y="282" width="3" height="18" fill="#ff4500"/>
<rect x="750" y="245" width="1" height="52" fill="#32cd32"/>
<rect x="748" y="281" width="5" height="11" fill="#32cd32"/>
<rect x="758" y="271" width="1" height="52" fill="#32cd32"/>
<rect x="756" y="291" width="5" height="10" fill="#32cd32"/>
<rect x="766" y="278" width="1" height="58" fill="#32cd32"/>
<rect x="764" y="300" width="5" height="12" fill="#32cd32"/>
<rect x="774" y="275" width="1" height="39" fill="#ff0000"/>
<rect x="772" y="284" width="5" height="28" fill="#ff0000"/>
<rect x="773" y="285" width="3" height="26" fill="#ff4500"/>
<rect x="782" y="251" width="1" height="39" fill="#ff0000"/>
<rect x="780" y="274" width="5" height="15" fill="#ff0000"/>
<rect x="781" y="275" width="3" height="13" fill="#ff4500"/>
<rect x="790" y="246" width="1" height="56" fill="#ff0000"/>
<rect x="788" y="252" width="5" height="23" fill="#ff0000"/>
<rect x="789" y="253" width="3" height="21" fill="#ff4500"/>
<rect x="798" y="231" width="1" height="32" fill="#ff0000"/>
<rect x="796" y="238" width="5" height="14" fill="#ff0000"/>
<rect x="797" y="239" width="3" height="12" fill="#ff4500"/>
<rect x="806" y="220" width="1" height="43" fill="#32cd32"/>
<rect x="804" y="238" width="5" height="3" fill="#32cd32"/>
<rect x="814" y="233" width="1" height="34" fill="#32cd32"/>
<rect x="812" y="240" width="5" height="7" fill="#32cd32"/>
<rect x="822" y="233" width="1" height="24" fill="#32cd32"/>
<rect x="820" y="246" width="5" height="3" fill="#32cd32"/>
<rect x="830" y="223" width="1" height="28" fill="#ff0000"/>
<rect x="828" y="241" width="5" height="9" fill="#ff0000"/>
<rect x="829" y="242" width="3" height="7" fill="#ff4500"/>
<rect x="838" y="216" width="1" height="34" fill="#ff0000"/>
<rect x="836" y="230" width="5" height="12" fill="#ff0000"/>
<rect x="837" y="231" width="3" height="10" fill="#ff4500"/>
<rect x="846" y="192" width="1" height="43" fill="#ff0000"/>
<rect x="844" y="211" width="5" height="20" fill="#ff0000"/>
<rect x="845" y="212" width="3" height="18" fill="#ff4500"/>
<rect x="854" y="179" width="1" height="51" fill="#ff0000"/>
<rect x="852" y="206" width="5" height="6" fill="#ff0000"/>
<rect x="853" y="207" width="3" height="4" fill="#ff4500"/>
<rect x="862" y="188" width="1" height="48" fill="#32cd32"/>
<rect x="860" y="206" width="5" height="2" fill="#32cd32"/>
<rect x="870" y="205" width="1" height="30" fill="#32cd32"/>
<rect x="868" y="206" width="5" height="26" fill="#32cd32"/>
<rect x="878" y="211" width="1" height="62" fill="#32cd32"/>
<rect x="876" y="214" width="5" height="48" fill="#32cd32"/>
<rect x="886" y="243" width="1" height="45" fill="#32cd32"/>
<rect x="884" y="261" width="5" height="14" fill="#32cd32"/>
<rect x="894" y="260" width="1" height="33" fill="#ff0000"/>
<rect x="892" y="265" width="5" height="10" fill="#ff0000"/>
<rect x="893" y="266" width="3" height="8" fill="#ff4500"/>
<rect x="902" y="259" width="1" height="81" fill="#32cd32"/>
<rect x="900" y="265" width="5" height="74" fill="#32cd32"/>
<rect x="910" y="336" width="1" height="49" fill="#32cd32"/>
<rect x="908" y="337" width="5" height="33" fill="#32cd32"/>
<rect x="738" y="276" width="282" height="2" fill="#ff3232"/>
<rect x="761" y="336" width="265" height="2" fill="#9acb14"/>
</g>
<rect x="5" y="424" width="3" height="45" fill="#c0c0c0"/>
<rect x="13" y="424" width="3" height="46" fill="#c0c0c0"/>
<rect x="21" y="424" width="3" height="48" fill="#c0c0c0"/>
<rect x="29" y="424" width="3" height="52" fill="#c0c0c0"/>
<rect x="37" y="424" width="3" height="50" fill="#c0c0c0"/>
<rect x="45" y="424" width="3" height="48" fill="#c0c0c0"/>
<rect x="53" y="424" width="3" height="46" fill="#c0c0c0"/>
<rect x="61" y="424" width="3" height="44" fill="#c0c0c0"/>
<rect x="69" y="424" width="3" height="40" fill="#c0c0c0"/>
<rect x="77" y="424" width="3" height="33" fill="#c0c0c0"/>
<rect x="85" y="424" width="3" height="30" fill="#c0c0c0"/>
<rect x="93" y="424" width="3" height="32" fill="#c0c0c0"/>
<rect x="101" y="424" width="3" height="35" fill="#c0c0c0"/>
<rect x="109" y="424" width="3" height="42" fill="#c0c0c0"/>
<rect x="117" y="424" width="3" height="45" fill="#c0c0c0"/>
<rect x="125" y="424" width="3" height="45" fill="#c0c0c0"/>
<rect x="133" y="424" width="3" height="44" fill="#c0c0c0"/>
<rect x="141" y="424" width="3" height="38" fill="#c0c0c0"/>
<rect x="149" y="424" width="3" height="31" fill="#c0c0c0"/>
<rect x="157" y="424" width="3" height="23" fill="#c0c0c0"/>
<rect x="165" y="424" width="3" height="19" fill="#c0c0c0"/>
<rect x="173" y="424" width="3" height="17" fill="#c0c0c0"/>
<rect x="181" y="424" width="3" height="15" fill="#c0c0c0"/>
<rect x="189" y="424" width="3" height="16" fill="#c0c0c0"/>
<rect x="197" y="424" width="3" height="19" fill="#c0c0c0"/>
<rect x="205" y="424" width="3" height="20" fill="#c0c0c0"/>
<rect x="213" y="424" width="3" height="23" fill="#c0c0c0"/>
<rect x="221" y="424" width="3" height="27" fill="#c0c0c0"/>
<rect x="229" y="424" width="3" height="22" fill="#c0c0c0"/>
<rect x="237" y="424" width="3" height="20" fill="#c0c0c0"/>
<rect x="245" y="424" width="3" height="23" fill="#c0c0c0"/>
<rect x="253" y="424" width="3" height="22" fill="#c0c0c0"/>
<rect x="261" y="424" width="3" height="19" fill="#c0c0c0"/>
<rect x="269" y="424" width="3" height="18" fill="#c0c0c0"/>
<rect x="277" y="424" width="3" height="14" fill="#c0c0c0"/>
<rect x="285" y="424" width="3" height="10" fill="#c0c0c0"/>
<rect x="293" y="424" width="3" height="5" fill="#c0c0c0"/>
<rect x="301" y="424" width="3" height="4" fill="#c0c0c0"/>
<rect x="309" y="424" width="3" height="7" fill="#c0c0c0"/>
<rect x="317" y="424" width="3" height="6" fill="#c0c0c0"/>
<rect x="325" y="424" width="3" height="7" fill="#c0c0c0"/>
<rect x="333" y="424" width="3" height="11" fill="#c0c0c0"/>
<rect x="341" y="424" width="3" height="13" fill="#c0c0c0"/>
<rect x="349" y="424" width="3" height="12" fill="#c0c0c0"/>
<rect x="357" y="424" width="3" height="10" fill="#c0c0c0"/>
<rect x="365" y="424" width="3" height="4" fill="#c0c0c0"/>
<rect x="373" y="423" width="3" height="1" fill="#c0c0c0"/>
<rect x="381" y="420" width="3" height="4" fill="#c0c0c0"/>
<rect x="389" y="421" width="3" height="3" fill="#c0c0c0"/>
<rect x="397" y="418" width="3" height="6" fill="#c0c0c0"/>
<rect x="405" y="417" width="3" height="7" fill="#c0c0c0"/>
<rect x="413" y="416" width="3" height="8" fill="#c0c0c0"/>
<rect x="421" y="416" width="3" height="8" fill="#c0c0c0"/>
<rect x="429" y="413" width="3" height="11" fill="#c0c0c0"/>
<rect x="437" y="411" width="3" height="13" fill="#c0c0c0"/>
<rect x="445" y="410" width="3" height="14" fill="#c0c0c0"/>
<rect x="453" y="407" width="3" height="17" fill="#c0c0c0"/>
<rect x="461" y="413" width="3" height="11" fill="#c0c0c0"/>
<rect x="469" y="414" width="3" height="10" fill="#c0c0c0"/>
<rect x="477" y="415" width="3" height="9" fill="#c0c0c0"/>
<rect x="485" y="416" width="3" height="8" fill="#c0c0c0"/>
<rect x="493" y="413" width="3" height="11" fill="#c0c0c0"/>
<rect x="501" y="411" width="3" height="13" fill="#c0c0c0"/>
<rect x="509" y="406" width="3" height="18" fill="#c0c0c0"/>
<rect x="517" y="402" width="3" height="22" fill="#c0c0c0"/>
<rect x="525" y="401" width="3" height="23" fill="#c0c0c0"/>
<rect x="533" y="402" width="3" height="22" fill="#c0c0c0"/>
<rect x="541" y="403" width="3" height="21" fill="#c0c0c0"/>
<rect x="549" y="405" width="3" height="19" fill="#c0c0c0"/>
<rect x="557" y="411" width="3" height="13" fill="#c0c0c0"/>
<rect x="565" y="416" width="3" height="8" fill="#c0c0c0"/>
<rect x="573" y="421" width="3" height="3" fill="#c0c0c0"/>
<rect x="581" y="424" width="3" height="2" fill="#c0c0c0"/>
<rect x="589" y="424" width="3" height="5" fill="#c0c0c0"/>
<rect x="597" y="424" width="3" height="8" fill="#c0c0c0"/>
<rect x="605" y="424" width="3" height="9" fill="#c0c0c0"/>
<rect x="613" y="424" width="3" height="11" fill="#c0c0c0"/>
<rect x="621" y="424" width="3" height="10" fill="#c0c0c0"/>
<rect x="629" y="424" width="3" height="8" fill="#c0c0c0"/>
<rect x="637" y="424" width="3" height="6" fill="#c0c0c0"/>
<rect x="645" y="424" width="3" height="3" fill="#c0c0c0"/>
<rect x="653" y="424" width="3" height="2" fill="#c0c0c0"/>
<rect x="661" y="420" width="3" height="4" fill="#c0c0c0"/>
<rect x="669" y="417" width="3" height="7" fill="#c0c0c0"/>
<rect x="677" y="415" width="3" height="9" fill="#c0c0c0"/>
<rect x="685" y="416" width="3" height="8" fill="#c0c0c0"/>
<rect x="693" y="418" width="3" height="6" fill="#c0c0c0"/>
<rect x="701" y="422" width="3" height="2" fill="#c0c0c0"/>
<rect x="709" y="424" width="3" height="3" fill="#c0c0c0"/>
<rect x="717" y="424" width="3" height="9" fill="#c0c0c0"/>
<rect x="725" y="424" width="3" height="13" fill="#c0c0c0"/>
<rect x="733" y="424" width="3" height="19" fill="#c0c0c0"/>
<rect x="741" y="424" width="3" height="23" fill="#c0c0c0"/>
<rect x="749" y="424" width="3" height="26" fill="#c0c0c0"/>
<rect x="757" y="424" width="3" height="29" fill="#c0c0c0"/>
<rect x="765" y="424" width="3" height="32" fill="#c0c0c0"/>
<rect x="773" y="424" width="3" height="31" fill="#c0c0c0"/>
<rect x="781" y="424" width="3" height="30" fill="#c0c0c0"/>
<rect x="789" y="424" width="3" height="27" fill="#c0c0c0"/>
<rect x="797" y="424" width="3" height="23" fill="#c0c0c0"/>
<rect x="805" y="424" width="3" height="20" fill="#c0c0c0"/>
<rect x="813" y="424" width="3" height="18" fill="#c0c0c0"/>
<rect x="821" y="424" width="3" height="16" fill="#c0c0c0"/>
<rect x="829" y="424" width="3" height="14" fill="#c0c0c0"/>
<rect x="837" y="424" width="3" height="11" fill="#c0c0c0"/>
<rect x="845" y="424" width="3" height="8" fill="#c0c0c0"/>
<rect x="853" y="424" width="3" height="4" fill="#c0c0c0"/>
<rect x="861" y="424" width="3" height="2" fill="#c0c0c0"/>
<rect x="869" y="424" width="3" height="2" fill="#c0c0c0"/>
<rect x="877" y="424" width="3" height="4" fill="#c0c0c0"/>
<rect x="885" y="424" width="3" height="7" fill="#c0c0c0"/>
<rect x="893" y="424" width="3" height="8" fill="#c0c0c0"/>
<rect x="901" y="424" width="3" height="15" fill="#c0c0c0"/>
<rect x="909" y="424" width="3" height="22" fill="#c0c0c0"/>
<path fill="#ff0000" d="M6 455h2v1h-2zM8 456h2v1h-2zM10 457h3v1h-3zM13 458h2v1h-2zM15 459h3v1h-3zM18 460h3v1h-3zM21 461h2v1h-2zM23 462h3v1h-3zM26 463h3v1h-3zM29 464h3v1h-3zM32 465h2v1h-2zM34 466h3v1h-3zM37 467h2v1h-2zM39 468h5v1h-5zM44 469h7v1h-7zM51 470h21v1h-21zM72 469h4v1h-4zM76 468h4v1h-4zM80 467h4v1h-4zM84 466h5v1h-5zM89 465h5v1h-5zM94 464h6v1h-6zM100 463h6v1h-6zM106 462h7v1h-7zM113 461h44v1h-44zM157 460h5v1h-5zM162 459h6v1h-6zM168 458h4v1h-4zM172 457h3v1h-3zM175 456h3v1h-3zM178 455h2v1h-2zM180 454h3v1h-3zM183 453h3v1h-3zM186 452h3v1h-3zM189 451h3v1h-3zM192 450h2v1h-2zM194 449h3v1h-3zM197 448h3v1h-3zM200 447h2v1h-2zM202 446h3v1h-3zM205 445h3v1h-3zM208 444h4v1h-4zM212 443h15v1h-15zM227 444h19v1h-19zM246 445h30v1h-30zM276 444h7v1h-7zM283 443h5v1h-5zM288 442h3v1h-3zM291 441h4v1h-4zM295 440h4v1h-4zM299 439h4v1h-4zM303 438h5v1h-5zM308 437h4v1h-4zM312 436h4v1h-4zM316 435h4v1h-4zM320 434h4v1h-4zM324 433h6v1h-6zM330 432h19v1h-19zM349 431h31v1h-31zM380 430h8v1h-8zM388 429h7v1h-7zM395 428h5v1h-5zM400 427h6v1h-6zM406 426h4v1h-4zM410 425h3v1h-3zM413 424h3v1h-3zM416 423h3v1h-3zM419 422h3v1h-3zM422 421h4v1h-4zM426 420h4v1h-4zM430 419h4v1h-4zM434 418h4v1h-4zM438 417h4v1h-4zM442 416h4v1h-4zM446 415h4v1h-4zM450 414h9v1h-9zM459 413h26v1h-26zM485 412h31v1h-31zM516 411h7v1h-7zM523 410h7v1h-7zM530 409h7v1h-7zM537 408h7v1h-7zM544 407h7v1h-7zM551 406h21v1h-21zM572 407h3v1h-3zM575 408h4v1h-4zM579 409h3v1h-3zM582 410h2v1h-2zM584 411h2v1h-2zM586 412h3v1h-3zM589 413h2v1h-2zM591 414h3v1h-3zM594 415h3v1h-3zM597 416h2v1h-2zM599 417h3v1h-3zM602 418h3v1h-3zM605 419h3v1h-3zM608 420h2v1h-2zM610 421h2v1h-2zM612 422h3v1h-3zM615 423h2v1h-2zM617 424h3v1h-3zM620 425h2v1h-2zM622 426h3v1h-3zM625 427h2v1h-2zM627 428h5v1h-5zM632 429h8v1h-8zM640 430h21v1h-21zM661 429h6v1h-6zM667 428h5v1h-5zM672 427h4v1h-4zM676 426h4v1h-4zM680 425h5v1h-5zM685 424h5v1h-5zM690 423h6v1h-6zM696 422h27v1h-27zM723 423h4v1h-4zM727 424h5v1h-5zM732 425h4v1h-4zM736 426h2v1h-2zM738 427h2v1h-2zM740 428h3v1h-3zM743 429h2v1h-2zM745 430h2v1h-2zM747 431h2v1h-2zM749 432h2v1h-2zM751 433h2v1h-2zM753 434h2v1h-2zM755 435h2v1h-2zM757 436h2v1h-2zM759 437h2v1h-2zM761 438h2v1h-2zM763 439h2v1h-2zM765 440h2v1h-2zM767 441h2v1h-2zM769 442h2v1h-2zM771 443h2v1h-2zM773 444h2v1h-2zM775 445h2v1h-2zM777 446h2v1h-2zM779 447h4v1h-4zM783 448h4v1h-4zM787 449h5v1h-5zM792 450h20v1h-20zM812 449h7v1h-7zM819 448h6v1h-6zM825 447h4v1h-4zM829 446h5v1h-5zM834 445h4v1h-4zM838 444h4v1h-4zM842 443h4v1h-4zM846 442h4v1h-4zM850 441h2v1h-2zM852 440h2v1h-2zM854 439h3v1h-3zM857 438h2v1h-2zM859 437h2v1h-2zM861 436h3v1h-3zM864 435h4v1h-4zM868 434h4v1h-4zM872 433h6v1h-6zM878 432h7v1h-7zM885 431h7v1h-7zM892 430h14v1h-14zM906 431h3v1h-3zM909 432h2v1h-2z"/>
<line x1="6" y1="517.5" x2="1156" y2="517.5" stroke="#c0c0c0" stroke-width="1" stroke-dasharray="3 3"/>
<line x1="6" y1="563.5" x2="1156" y2="563.5" stroke="#c0c0c0" stroke-width="1" stroke-dasharray="3 3"/>
<path fill="#1e90ff" d="M6 556h2v1h-2zM8 557h4v1h-4zM12 558h4v1h-4zM16 559h2v1h-2zM18 560h3v1h-3zM21 561h3v1h-3zM24 562h2v1h-2zM26 563h3v1h-3zM29 564h2v1h-2zM31 562h1v2h-1zM32 560h1v2h-1zM33 559h1v1h-1zM34 557h1v2h-1zM35 556h1v1h-1zM36 554h1v2h-1zM37 552h1v2h-1zM38 551h2v1h-2zM40 552h2v1h-2zM42 553h3v1h-3zM45 554h3v1h-3zM48 553h4v1h-4zM52 552h4v1h-4zM56 551h4v1h-4zM60 550h4v1h-4zM64 549h2v1h-2zM66 548h3v1h-3zM69 547h2v1h-2zM71 546h1v1h-1zM72 545h1v1h-1zM73 544h1v1h-1zM74 542h1v2h-1zM75 541h1v1h-1zM76 540h1v1h-1zM77 539h1v1h-1zM78 538h1v1h-1zM79 539h1v1h-1zM80 540h2v1h-2zM82 541h1v1h-1zM83 542h1v1h-1zM84 543h2v1h-2zM86 544h1v1h-1zM87 545h1v1h-1zM88 546h1v1h-1zM89 547h1v1h-1zM90 548h1v2h-1zM91 550h1v1h-1zM92 551h1v1h-1zM93 552h1v1h-1zM94 553h2v1h-2zM96 554h4v1h-4zM100 555h3v1h-3zM103 556h1v1h-1zM104 557h1v1h-1zM105 558h1v1h-1zM106 559h2v1h-2zM108 560h1v1h-1zM109 561h1v1h-1zM110 562h1v1h-1zM111 561h2v1h-2zM113 560h1v1h-1zM114 559h2v1h-2zM116 558h2v1h-2zM118 557h1v1h-1zM119 556h2v1h-2zM121 555h2v1h-2zM123 554h2v1h-2zM125 553h3v1h-3zM128 552h4v1h-4zM132 551h3v1h-3zM135 550h1v1h-1zM136 548h1v2h-1zM137 547h1v1h-1zM138 546h1v1h-1zM139 545h1v1h-1zM140 543h1v2h-1zM141 542h1v1h-1zM142 541h2v1h-2zM144 540h2v1h-2zM146 539h3v1h-3zM149 538h2v1h-2zM151 537h2v1h-2zM153 536h2v1h-2zM155 535h2v1h-2zM157 534h2v1h-2zM159 535h2v1h-2zM161 536h1v1h-1zM162 537h2v1h-2zM164 538h2v1h-2zM166 539h2v1h-2zM168 540h4v1h-4zM172 541h6v1h-6zM178 540h5v1h-5zM183 541h1v1h-1zM184 542h1v1h-1zM185 543h1v1h-1zM186 544h2v1h-2zM188 545h1v1h-1zM189 546h1v1h-1zM190 547h2v1h-2zM192 548h2v1h-2zM194 549h3v1h-3zM197 550h3v1h-3zM200 549h2v1h-2zM202 548h3v1h-3zM205 547h2v1h-2zM207 548h1v1h-1zM208 549h2v1h-2zM210 550h1v1h-1zM211 551h1v1h-1zM212 552h2v1h-2zM214 553h2v1h-2zM216 554h4v1h-4zM220 555h3v1h-3zM223 553h1v2h-1zM224 551h1v2h-1zM225 549h1v2h-1zM226 547h1v2h-1zM227 545h1v2h-1zM228 543h1v2h-1zM229 541h1v2h-1zM230 539h1v2h-1zM231 540h1v1h-1zM232 541h1v1h-1zM233 542h1v1h-1zM234 543h2v1h-2zM236 544h1v1h-1zM237 545h1v1h-1zM238 546h2v1h-2zM240 547h4v1h-4zM244 548h3v1h-3zM247 547h1v1h-1zM248 546h2v1h-2zM250 545h1v1h-1zM251 544h1v1h-1zM252 543h2v1h-2zM254 542h10v1h-10zM264 543h4v1h-4zM268 544h3v1h-3zM271 543h1v1h-1zM272 542h2v1h-2zM274 541h1v1h-1zM275 540h1v1h-1zM276 539h2v1h-2zM278 538h4v1h-4zM282 537h5v1h-5zM287 536h2v1h-2zM289 535h2v1h-2zM291 534h2v1h-2zM293 533h2v1h-2zM295 534h1v1h-1zM296 535h1v1h-1zM297 536h1v1h-1zM298 537h2v1h-2zM300 538h1v1h-1zM301 539h1v1h-1zM302 540h1v1h-1zM303 541h1v1h-1zM304 542h2v1h-2zM306 543h1v1h-1zM307 544h1v1h-1zM308 545h2v1h-2zM310 546h1v1h-1zM311 545h1v1h-1zM312 544h2v1h-2zM314 543h1v1h-1zM315 542h1v1h-1zM316 541h2v1h-2zM318 540h1v1h-1zM319 541h2v1h-2zM321 542h2v1h-2zM323 543h2v1h-2zM325 544h2v1h-2zM327 545h2v1h-2zM329 546h2v1h-2zM331 547h2v1h-2zM333 548h5v1h-5zM338 547h5v1h-5zM343 546h2v1h-2zM345 545h2v1h-2zM347 544h2v1h-2zM349 543h2v1h-2zM351 542h2v1h-2zM353 541h2v1h-2zM355 540h2v1h-2zM357 539h2v1h-2zM359 538h1v1h-1zM360 537h1v1h-1zM361 536h1v1h-1zM362 535h2v1h-2zM364 534h1v1h-1zM365 533h1v1h-1zM366 532h4v1h-4zM370 533h13v1h-13zM383 534h1v1h-1zM384 535h1v1h-1zM385 536h1v1h-1zM386 537h2v1h-2zM388 538h1v1h-1zM389 539h1v1h-1zM390 540h1v1h-1zM391 539h1v1h-1zM392 538h2v1h-2zM394 537h1v1h-1zM395 536h1v1h-1zM396 535h2v1h-2zM398 534h2v1h-2zM400 535h4v1h-4zM404 536h6v1h-6zM410 535h6v1h-6zM416 536h4v1h-4zM420 537h3v1h-3zM423 536h2v1h-2zM425 535h1v1h-1zM426 534h2v1h-2zM428 533h2v1h-2zM430 532h4v1h-4zM434 531h6v1h-6zM440 532h4v1h-4zM444 533h3v1h-3zM447 532h2v1h-2zM449 531h1v1h-1zM450 530h2v1h-2zM452 529h2v1h-2zM454 528h1v2h-1zM455 530h1v2h-1zM456 532h1v2h-1zM457 534h1v2h-1zM458 536h1v2h-1zM459 538h1v2h-1zM460 540h1v2h-1zM461 542h1v2h-1zM462 544h1v2h-1zM463 544h2v1h-2zM465 543h1v1h-1zM466 542h2v1h-2zM468 541h2v1h-2zM470 540h2v1h-2zM472 539h4v1h-4zM476 538h6v1h-6zM482 539h5v1h-5zM487 538h1v1h-1zM488 537h1v1h-1zM489 536h1v1h-1zM490 535h1v1h-1zM491 534h1v1h-1zM492 533h1v1h-1zM493 532h1v1h-1zM494 531h2v1h-2zM496 532h2v1h-2zM498 533h3v1h-3zM501 534h2v1h-2zM503 533h1v1h-1zM504 532h1v1h-1zM505 531h1v1h-1zM506 530h2v1h-2zM508 529h1v1h-1zM509 528h1v1h-1zM510 527h4v1h-4zM514 526h5v1h-5zM519 527h1v1h-1zM520 528h1v1h-1zM521 529h1v1h-1zM522 530h2v1h-2zM524 531h1v1h-1zM525 532h1v1h-1zM526 533h4v1h-4zM530 534h13v1h-13zM543 535h2v1h-2zM545 536h2v1h-2zM547 537h2v1h-2zM549 538h2v1h-2zM551 539h1v1h-1zM552 540h1v1h-1zM553 541h1v1h-1zM554 542h2v1h-2zM556 543h1v1h-1zM557 544h1v1h-1zM558 545h4v1h-4zM562 546h6v1h-6zM568 547h4v1h-4zM572 548h14v1h-14zM586 549h8v1h-8zM594 550h5v1h-5zM599 549h2v1h-2zM601 548h1v1h-1zM602 547h2v1h-2zM604 546h2v1h-2zM606 545h1v1h-1zM607 546h2v1h-2zM609 547h2v1h-2zM611 548h2v1h-2zM613 549h2v1h-2zM615 548h1v1h-1zM616 547h1v1h-1zM617 546h1v1h-1zM618 545h1v1h-1zM619 544h1v1h-1zM620 543h1v1h-1zM621 542h1v1h-1zM622 541h2v1h-2zM624 540h2v1h-2zM626 539h3v1h-3zM629 538h2v1h-2zM631 537h2v1h-2zM633 536h2v1h-2zM635 535h2v1h-2zM637 534h2v1h-2zM639 535h2v1h-2zM641 536h1v1h-1zM642 537h2v1h-2zM644 538h2v1h-2zM646 539h2v1h-2zM648 538h4v1h-4zM652 537h3v1h-3zM655 536h1v1h-1zM656 535h1v1h-1zM657 534h1v1h-1zM658 533h1v1h-1zM659 532h1v1h-1zM660 531h1v1h-1zM661 530h1v1h-1zM662 529h4v1h-4zM666 530h6v1h-6zM672 531h4v1h-4zM676 532h3v1h-3zM679 533h1v1h-1zM680 534h2v1h-2zM682 535h1v1h-1zM683 536h1v1h-1zM684 537h2v1h-2zM686 538h1v1h-1zM687 539h2v1h-2zM689 540h2v1h-2zM691 541h2v1h-2zM693 542h2v1h-2zM695 543h2v1h-2zM697 544h1v1h-1zM698 545h2v1h-2zM700 546h2v1h-2zM702 547h2v1h-2zM704 548h2v1h-2zM706 549h3v1h-3zM709 550h2v1h-2zM711 551h2v1h-2zM713 552h2v1h-2zM715 553h2v1h-2zM717 554h3v1h-3zM720 555h4v1h-4zM724 556h3v1h-3zM727 557h2v1h-2zM729 558h1v1h-1zM730 559h2v1h-2zM732 560h2v1h-2zM734 561h1v1h-1zM735 560h2v1h-2zM737 559h1v1h-1zM738 558h2v1h-2zM740 557h2v1h-2zM742 556h4v1h-4zM746 557h6v1h-6zM752 558h4v1h-4zM756 559h4v1h-4zM760 560h4v1h-4zM764 561h3v1h-3zM767 560h1v1h-1zM768 559h1v1h-1zM769 558h1v1h-1zM770 556h1v2h-1zM771 555h1v1h-1zM772 554h1v1h-1zM773 553h1v1h-1zM774 552h2v1h-2zM776 551h4v1h-4zM780 550h3v1h-3zM783 549h1v1h-1zM784 548h2v1h-2zM786 547h1v1h-1zM787 546h1v1h-1zM788 545h2v1h-2zM790 544h2v1h-2zM792 543h2v1h-2zM794 542h3v1h-3zM797 541h11v1h-11zM808 542h4v1h-4zM812 543h12v1h-12zM824 542h4v1h-4zM828 541h4v1h-4zM832 540h2v1h-2zM834 539h3v1h-3zM837 538h2v1h-2zM839 537h2v1h-2zM841 536h2v1h-2zM843 535h2v1h-2zM845 534h3v1h-3zM848 533h4v1h-4zM852 532h11v1h-11zM863 533h1v1h-1zM864 534h1v1h-1zM865 535h1v1h-1zM866 536h1v1h-1zM867 537h1v1h-1zM868 538h1v1h-1zM869 539h1v1h-1zM870 540h1v1h-1zM871 541h1v1h-1zM872 542h1v1h-1zM873 543h1v1h-1zM874 544h1v1h-1zM875 545h1v1h-1zM876 546h1v1h-1zM877 547h1v1h-1zM878 548h2v1h-2zM880 549h2v1h-2zM882 550h3v1h-3zM885 551h3v1h-3zM888 550h2v1h-2zM890 549h3v1h-3zM893 548h2v1h-2zM895 549h1v2h-1zM896 551h1v2h-1zM897 553h1v2h-1zM898 555h1v1h-1zM899 556h1v2h-1zM900 558h1v2h-1zM901 560h1v2h-1zM902 562h1v1h-1zM903 563h2v1h-2zM905 564h2v1h-2zM907 565h2v1h-2zM909 566h2v1h-2z"/>
<rect x="5" y="33" width="1152" height="1" fill="#000000"/>
<rect x="5" y="33" width="1" height="566" fill="#000000"/>
<rect x="1156" y="33" width="1" height="566" fill="#000000"/>
<rect x="5" y="394" width="1152" height="1" fill="#000000"/>
<rect x="5" y="396" width="1152" height="1" fill="#000000"/>
<rect x="5" y="479" width="1152" height="1" fill="#000000"/>
<rect x="5" y="481" width="1152" height="1" fill="#000000"/>
<rect x="5" y="598" width="1152" height="1" fill="#000000"/>
<rect x="5" y="395" width="1153" height="1" fill="#ffffff"/>
<rect x="5" y="480" width="1153" height="1" fill="#ffffff"/>
<path d="M9 44 L16 44 L12.5 40 Z" fill="#000" shape-rendering="auto"/>
<text x="21.4" y="45" font-size="10.0" fill="#000" textLength="63" lengthAdjust="spacingAndGlyphs" stroke="#000" stroke-width="0.22">EURUSD,Daily</text>
<text x="91" y="45" font-size="10.0" fill="#000" textLength="141" lengthAdjust="spacingAndGlyphs" stroke="#000" stroke-width="0.22">1.12316 1.12330 1.11758 1.11942</text>
<text x="10.4" y="409.6" font-size="10.0" fill="#000" textLength="153.5" lengthAdjust="spacingAndGlyphs" stroke="#000" stroke-width="0.22">MACD(12,26,9) -0.002518 -0.000788</text>
<text x="10.4" y="494" font-size="10.0" fill="#000" textLength="67" lengthAdjust="spacingAndGlyphs" stroke="#000" stroke-width="0.22">RSI(14) 27.4193</text>
<rect x="1157" y="61" width="2" height="1" fill="#000000"/>
<text x="1162.3" y="65" font-size="10.0" fill="#000" textLength="32.5" lengthAdjust="spacingAndGlyphs" stroke="#000" stroke-width="0.22">1.15580</text>
<rect x="1157" y="94" width="2" height="1" fill="#000000"/>
<text x="1162.3" y="98" font-size="10.0" fill="#000" textLength="32.5" lengthAdjust="spacingAndGlyphs" stroke="#000" stroke-width="0.22">1.15190</text>
<rect x="1157" y="127" width="2" height="1" fill="#000000"/>
<text x="1162.3" y="131" font-size="10.0" fill="#000" textLength="32.5" lengthAdjust="spacingAndGlyphs" stroke="#000" stroke-width="0.22">1.14800</text>
<rect x="1157" y="160" width="2" height="1" fill="#000000"/>
<text x="1162.3" y="164" font-size="10.0" fill="#000" textLength="32.5" lengthAdjust="spacingAndGlyphs" stroke="#000" stroke-width="0.22">1.14410</text>
<rect x="1157" y="193" width="2" height="1" fill="#000000"/>
<text x="1162.3" y="197" font-size="10.0" fill="#000" textLength="32.5" lengthAdjust="spacingAndGlyphs" stroke="#000" stroke-width="0.22">1.14020</text>
<rect x="1157" y="226" width="2" height="1" fill="#000000"/>
<text x="1162.3" y="230" font-size="10.0" fill="#000" textLength="32.5" lengthAdjust="spacingAndGlyphs" stroke="#000" stroke-width="0.22">1.13630</text>
<rect x="1157" y="259" width="2" height="1" fill="#000000"/>
<text x="1162.3" y="263" font-size="10.0" fill="#000" textLength="32.5" lengthAdjust="spacingAndGlyphs" stroke="#000" stroke-width="0.22">1.13240</text>
<rect x="1157" y="292" width="2" height="1" fill="#000000"/>
<text x="1162.3" y="296" font-size="10.0" fill="#000" textLength="32.5" lengthAdjust="spacingAndGlyphs" stroke="#000" stroke-width="0.22">1.12850</text>
<rect x="1157" y="325" width="2" height="1" fill="#000000"/>
<text x="1162.3" y="329" font-size="10.0" fill="#000" textLength="32.5" lengthAdjust="spacingAndGlyphs" stroke="#000" stroke-width="0.22">1.12460</text>
<rect x="1157" y="358" width="2" height="1" fill="#000000"/>
<text x="1162.3" y="362" font-size="10.0" fill="#000" textLength="32.5" lengthAdjust="spacingAndGlyphs" stroke="#000" stroke-width="0.22">1.12070</text>
<rect x="1157" y="391" width="2" height="1" fill="#000000"/>
<text x="1162.3" y="395" font-size="10.0" fill="#000" textLength="32.5" lengthAdjust="spacingAndGlyphs" stroke="#000" stroke-width="0.22">1.11680</text>
<rect x="1158" y="364" width="41" height="11" fill="#000000"/>
<text x="1162.3" y="373" font-size="10.0" fill="#fff" textLength="32.5" lengthAdjust="spacingAndGlyphs" stroke="#fff" stroke-width="0.22">1.11942</text>
<rect x="1157" y="398" width="1" height="1" fill="#000000"/>
<rect x="1157" y="424" width="1" height="1" fill="#000000"/>
<rect x="1157" y="478" width="1" height="1" fill="#000000"/>
<rect x="1157" y="483" width="1" height="1" fill="#000000"/>
<rect x="1157" y="517" width="1" height="1" fill="#000000"/>
<rect x="1157" y="563" width="1" height="1" fill="#000000"/>
<rect x="1157" y="596" width="1" height="1" fill="#000000"/>
<text x="1160.6" y="407" font-size="10.0" fill="#000" textLength="37.5" lengthAdjust="spacingAndGlyphs" stroke="#000" stroke-width="0.22">0.003216</text>
<text x="1160.6" y="428" font-size="10.0" fill="#000" textLength="17" lengthAdjust="spacingAndGlyphs" stroke="#000" stroke-width="0.22">0.00</text>
<text x="1160.2" y="476" font-size="10.0" fill="#000" textLength="39.4" lengthAdjust="spacingAndGlyphs" stroke="#000" stroke-width="0.22">-0.006485</text>
<text x="1160.6" y="492" font-size="10.0" fill="#000" textLength="14.4" lengthAdjust="spacingAndGlyphs" stroke="#000" stroke-width="0.22">100</text>
<text x="1160.6" y="521" font-size="10.0" fill="#000" textLength="9.5" lengthAdjust="spacingAndGlyphs" stroke="#000" stroke-width="0.22">70</text>
<text x="1160.6" y="567" font-size="10.0" fill="#000" textLength="9.5" lengthAdjust="spacingAndGlyphs" stroke="#000" stroke-width="0.22">30</text>
<text x="1160.6" y="595" font-size="10.0" fill="#000" stroke="#000" stroke-width="0.22">0</text>
<rect x="6" y="598" width="1" height="4" fill="#000000"/>
<text x="5.5" y="611" font-size="10.0" fill="#000" textLength="50.5" lengthAdjust="spacingAndGlyphs" stroke="#000" stroke-width="0.22">27 Oct 2018</text>
<rect x="70" y="598" width="1" height="4" fill="#000000"/>
<text x="69.5" y="611" font-size="10.0" fill="#000" textLength="48.3" lengthAdjust="spacingAndGlyphs" stroke="#000" stroke-width="0.22">6 Nov 2018</text>
<rect x="134" y="598" width="1" height="4" fill="#000000"/>
<text x="133.5" y="611" font-size="10.0" fill="#000" textLength="53.5" lengthAdjust="spacingAndGlyphs" stroke="#000" stroke-width="0.22">15 Nov 2018</text>
<rect x="198" y="598" width="1" height="4" fill="#000000"/>
<text x="197.5" y="611" font-size="10.0" fill="#000" textLength="53.3" lengthAdjust="spacingAndGlyphs" stroke="#000" stroke-width="0.22">24 Nov 2018</text>
<rect x="262" y="598" width="1" height="4" fill="#000000"/>
<text x="261.5" y="611" font-size="10.0" fill="#000" textLength="46.3" lengthAdjust="spacingAndGlyphs" stroke="#000" stroke-width="0.22">4 Dec 2018</text>
<rect x="326" y="598" width="1" height="4" fill="#000000"/>
<text x="325.5" y="611" font-size="10.0" fill="#000" textLength="50.7" lengthAdjust="spacingAndGlyphs" stroke="#000" stroke-width="0.22">13 Dec 2018</text>
<rect x="390" y="598" width="1" height="4" fill="#000000"/>
<text x="389.5" y="611" font-size="10.0" fill="#000" textLength="51.4" lengthAdjust="spacingAndGlyphs" stroke="#000" stroke-width="0.22">22 Dec 2018</text>
<rect x="454" y="598" width="1" height="4" fill="#000000"/>
<text x="453.5" y="611" font-size="10.0" fill="#000" textLength="45" lengthAdjust="spacingAndGlyphs" stroke="#000" stroke-width="0.22">1 Jan 2019</text>
<rect x="518" y="598" width="1" height="4" fill="#000000"/>
<text x="517.5" y="611" font-size="10.0" fill="#000" textLength="49.4" lengthAdjust="spacingAndGlyphs" stroke="#000" stroke-width="0.22">10 Jan 2019</text>
<rect x="582" y="598" width="1" height="4" fill="#000000"/>
<text x="581.5" y="611" font-size="10.0" fill="#000" textLength="49.4" lengthAdjust="spacingAndGlyphs" stroke="#000" stroke-width="0.22">19 Jan 2019</text>
<rect x="646" y="598" width="1" height="4" fill="#000000"/>
<text x="645.5" y="611" font-size="10.0" fill="#000" textLength="50" lengthAdjust="spacingAndGlyphs" stroke="#000" stroke-width="0.22">29 Jan 2019</text>
<rect x="710" y="598" width="1" height="4" fill="#000000"/>
<text x="709.5" y="611" font-size="10.0" fill="#000" textLength="47" lengthAdjust="spacingAndGlyphs" stroke="#000" stroke-width="0.22">7 Feb 2019</text>
<rect x="774" y="598" width="1" height="4" fill="#000000"/>
<text x="773.5" y="611" font-size="10.0" fill="#000" textLength="51.7" lengthAdjust="spacingAndGlyphs" stroke="#000" stroke-width="0.22">16 Feb 2019</text>
<rect x="838" y="598" width="1" height="4" fill="#000000"/>
<text x="837.5" y="611" font-size="10.0" fill="#000" textLength="51.7" lengthAdjust="spacingAndGlyphs" stroke="#000" stroke-width="0.22">26 Feb 2019</text>
<rect x="902" y="598" width="1" height="4" fill="#000000"/>
<text x="901.5" y="611" font-size="10.0" fill="#000" textLength="47.6" lengthAdjust="spacingAndGlyphs" stroke="#000" stroke-width="0.22">7 Mar 2019</text>
<rect x="7" y="52" width="223" height="67" fill="#ffffff"/>
<rect x="9" y="53" width="52" height="24" fill="url(#gs)"/>
<rect x="176" y="53" width="52" height="24" fill="url(#gs)"/>
<rect x="9" y="77" width="109" height="40" fill="url(#gb)"/>
<rect x="120" y="77" width="108" height="40" fill="url(#gb)"/>
<rect x="9" y="53" width="52" height="1" fill="#b00808"/>
<rect x="9" y="53" width="1" height="24" fill="#b00808"/>
<rect x="60" y="53" width="1" height="24" fill="#b00808"/>
<rect x="176" y="53" width="52" height="1" fill="#b00808"/>
<rect x="176" y="53" width="1" height="24" fill="#b00808"/>
<rect x="227" y="53" width="1" height="24" fill="#b00808"/>
<rect x="9" y="77" width="1" height="40" fill="#a80000"/>
<rect x="117" y="77" width="1" height="40" fill="#a80000"/>
<rect x="120" y="77" width="1" height="40" fill="#a80000"/>
<rect x="227" y="77" width="1" height="40" fill="#a80000"/>
<rect x="13" y="76" width="44" height="1" fill="#a00000"/>
<rect x="13" y="77" width="44" height="1" fill="#f08888"/>
<rect x="180" y="76" width="44" height="1" fill="#a00000"/>
<rect x="180" y="77" width="44" height="1" fill="#f08888"/>
<rect x="63" y="53" width="111" height="22" fill="#f4f4f6"/>
<rect x="63" y="53" width="111" height="1" fill="#a8acb4"/>
<rect x="63" y="74" width="111" height="1" fill="#a8acb4"/>
<rect x="63" y="53" width="1" height="22" fill="#a8acb4"/>
<rect x="173" y="53" width="1" height="22" fill="#a8acb4"/>
<rect x="64" y="54" width="20" height="20" fill="url(#gsp)"/>
<rect x="153" y="54" width="20" height="20" fill="url(#gsp)"/>
<rect x="84" y="54" width="1" height="20" fill="#a8acb4"/>
<rect x="152" y="54" width="1" height="20" fill="#a8acb4"/>
<rect x="85" y="54" width="67" height="20" fill="#ffffff"/>
<path d="M71 62.5 L76.4 62.5 L73.7 65.5 Z" fill="#4060c8" shape-rendering="auto"/>
<path d="M160 65.2 L165.4 65.2 L162.7 62.2 Z" fill="#4060c8" shape-rendering="auto"/>
<text x="149" y="68" font-size="12" fill="#000" textLength="30" lengthAdjust="spacingAndGlyphs" text-anchor="end" stroke="#000" stroke-width="0.12">10.00</text>
<text x="21.3" y="68.9" font-size="12" fill="#fff" textLength="25.6" lengthAdjust="spacingAndGlyphs" stroke="#fff" stroke-width="0.12">SELL</text>
<text x="189.5" y="68.9" font-size="12" fill="#fff" textLength="22.9" lengthAdjust="spacingAndGlyphs" stroke="#fff" stroke-width="0.12">BUY</text>
<text x="29.6" y="107.9" font-size="12" fill="#fff" textLength="22.9" lengthAdjust="spacingAndGlyphs" font-weight="bold" stroke="#fff" stroke-width="0.12">1.11</text>
<text x="57.0" y="107.9" font-size="34.4" fill="#fff" textLength="34.2" lengthAdjust="spacingAndGlyphs">94</text>
<text x="96.0" y="91.8" font-size="12" fill="#fff" font-weight="bold" stroke="#fff" stroke-width="0.12">2</text>
<text x="139.6" y="107.9" font-size="12" fill="#fff" textLength="22.9" lengthAdjust="spacingAndGlyphs" font-weight="bold" stroke="#fff" stroke-width="0.12">1.11</text>
<text x="167.6" y="107.9" font-size="34.4" fill="#fff" textLength="34.2" lengthAdjust="spacingAndGlyphs">96</text>
<text x="207.2" y="91.8" font-size="12" fill="#fff" font-weight="bold" stroke="#fff" stroke-width="0.12">1</text>
<rect x="0" y="619" width="1200" height="1" fill="#e8e8e8"/>
<rect x="0" y="620" width="1200" height="1" fill="#ffffff"/>
<rect x="0" y="621" width="1200" height="20" fill="#f0f0f0"/>
<rect x="0" y="641" width="1200" height="1" fill="#fbfbfb"/>
<rect x="0" y="642" width="1200" height="3" fill="#f0f0f0"/>
<rect x="1" y="621" width="1" height="20" fill="#808080"/>
<rect x="2" y="621" width="1" height="20" fill="#a0a0a0"/>
<rect x="3" y="621" width="1" height="20" fill="#ffffff"/>
<rect x="1" y="621" width="1199" height="1" fill="#000000"/>
<rect x="111" y="622" width="1089" height="1" fill="#ffffff"/>
<rect x="8" y="620" width="102" height="19" fill="#ffffff"/>
<rect x="7" y="621" width="1" height="19" fill="#000000"/>
<rect x="110" y="621" width="1" height="19" fill="#000000"/>
<rect x="7" y="639" width="104" height="1" fill="#000000"/>
<rect x="111" y="622" width="1" height="18" fill="#ffffff"/>
<rect x="0" y="640" width="3" height="1" fill="#a0a0a0"/>
<text x="19.5" y="636" font-size="12" fill="#000" textLength="79.5" lengthAdjust="spacingAndGlyphs" stroke="#000" stroke-width="0.12">EURUSD,Daily</text>
<text x="122" y="636" font-size="12" fill="#7a7a7a" textLength="82" lengthAdjust="spacingAndGlyphs" stroke="#7a7a7a" stroke-width="0.12">AUDUSD,Daily</text>
<text x="225" y="636" font-size="12" fill="#7a7a7a" textLength="79" lengthAdjust="spacingAndGlyphs" stroke="#7a7a7a" stroke-width="0.12">USDCHF,Daily</text>
<text x="326.2" y="636" font-size="12" fill="#7a7a7a" textLength="80.8" lengthAdjust="spacingAndGlyphs" stroke="#7a7a7a" stroke-width="0.12">USDCAD,Daily</text>
<text x="429.5" y="636" font-size="12" fill="#7a7a7a" textLength="70.5" lengthAdjust="spacingAndGlyphs" stroke="#7a7a7a" stroke-width="0.12">USDCNH,H4</text>
<text x="521" y="636" font-size="12" fill="#7a7a7a" textLength="74.5" lengthAdjust="spacingAndGlyphs" stroke="#7a7a7a" stroke-width="0.12">USDJPY,Daily</text>
<text x="618" y="636" font-size="12" fill="#7a7a7a" textLength="69" lengthAdjust="spacingAndGlyphs" stroke="#7a7a7a" stroke-width="0.12">XAUUSD,H4</text>
<text x="711" y="636" font-size="12" fill="#7a7a7a" textLength="68" lengthAdjust="spacingAndGlyphs" stroke="#7a7a7a" stroke-width="0.12">GBPUSD,H4</text>
<text x="802" y="636" font-size="12" fill="#7a7a7a" textLength="53.5" lengthAdjust="spacingAndGlyphs" stroke="#7a7a7a" stroke-width="0.12">SP500,H1</text>
<text x="879" y="636" font-size="12" fill="#7a7a7a" textLength="67.7" lengthAdjust="spacingAndGlyphs" stroke="#7a7a7a" stroke-width="0.12">GBPUSD,H1</text>
<text x="969.5" y="636" font-size="12" fill="#7a7a7a" textLength="46.2" lengthAdjust="spacingAndGlyphs" stroke="#7a7a7a" stroke-width="0.12">DJ30,H4</text>
<text x="1037.5" y="636" font-size="12" fill="#7a7a7a" textLength="70.0" lengthAdjust="spacingAndGlyphs" stroke="#7a7a7a" stroke-width="0.12">TECH100,H1</text>
<text x="1131" y="636" font-size="12" fill="#7a7a7a" textLength="34.5" lengthAdjust="spacingAndGlyphs" stroke="#7a7a7a" stroke-width="0.12">UKOil,</text>
<rect x="215" y="624" width="1" height="14" fill="#8a8a8a"/>
<rect x="315" y="624" width="1" height="14" fill="#8a8a8a"/>
<rect x="419" y="624" width="1" height="14" fill="#8a8a8a"/>
<rect x="511" y="624" width="1" height="14" fill="#8a8a8a"/>
<rect x="607" y="624" width="1" height="14" fill="#8a8a8a"/>
<rect x="699" y="624" width="1" height="14" fill="#8a8a8a"/>
<rect x="791" y="624" width="1" height="14" fill="#8a8a8a"/>
<rect x="867" y="624" width="1" height="14" fill="#8a8a8a"/>
<rect x="959" y="624" width="1" height="14" fill="#8a8a8a"/>
<rect x="1027" y="624" width="1" height="14" fill="#8a8a8a"/>
<rect x="1119" y="624" width="1" height="14" fill="#8a8a8a"/>
<rect x="1168" y="622" width="32" height="18" fill="#f0f0f0"/>
<path d="M1175.5 626 L1175.5 634 L1171.5 630 Z" fill="#9a9a9a" shape-rendering="auto"/>
<path d="M1191 626 L1191 634 L1195 630 Z" fill="#000" shape-rendering="auto"/>
</svg>
</body></html>
